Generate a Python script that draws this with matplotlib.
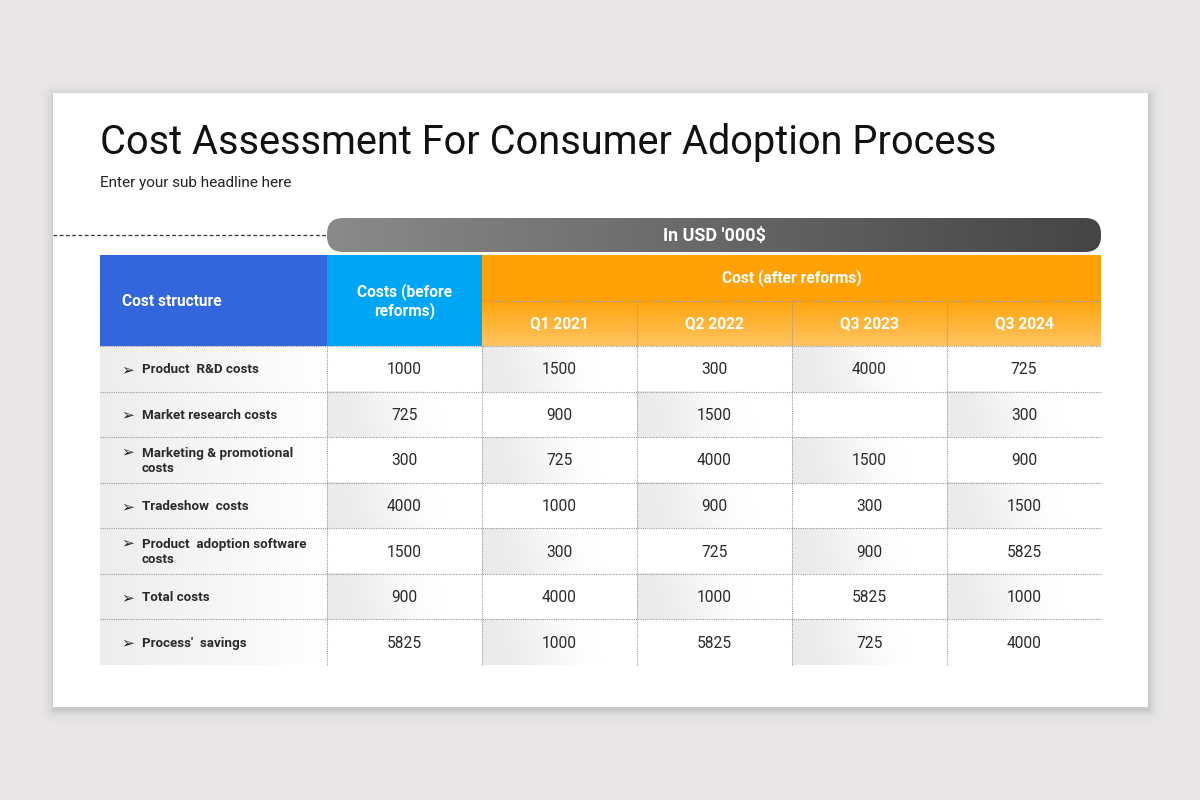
import numpy as np
import matplotlib
matplotlib.use("Agg")
import matplotlib.pyplot as plt
from matplotlib.patches import Rectangle, FancyBboxPatch
from matplotlib.colors import to_rgb

# ---------------- data ----------------
title = "Cost Assessment For Consumer Adoption Process"
subtitle = "Enter your sub headline here"
unit_label = "In USD '000$"
col_header_structure = "Cost structure"
col_header_before = "Costs (before\nreforms)"
col_header_after = "Cost (after reforms)"
periods = ["Q1 2021", "Q2 2022", "Q3 2023", "Q3 2024"]
row_labels = [
    "Product  R&D costs",
    "Market research costs",
    "Marketing & promotional\ncosts",
    "Tradeshow  costs",
    "Product  adoption software\ncosts",
    "Total costs",
    "Process'  savings",
]
costs_before = [1000, 725, 300, 4000, 1500, 900, 5825]
q1_2021 = [1500, 900, 725, 1000, 300, 4000, 1000]
q2_2022 = [300, 1500, 4000, 900, 725, 1000, 5825]
q3_2023 = [4000, None, 1500, 300, 900, 5825, 725]
q3_2024 = [725, 300, 900, 1500, 5825, 1000, 4000]
after_values = [q1_2021, q2_2022, q3_2023, q3_2024]

FONT = ["Roboto", "DejaVu Sans"]

fig = plt.figure(figsize=(12, 8), dpi=100)
fig.patch.set_facecolor("#e9e7e7")
ax = fig.add_axes([0, 0, 1, 1])
ax.set_xlim(0, 1200)
ax.set_ylim(800, 0)
ax.axis("off")
ax.set_autoscale_on(False)

# ---------------- card with soft shadow ----------------
cx0, cy0, cx1, cy1 = 53, 93, 1148, 707
yy, xx = np.mgrid[0:800, 0:1200] + 0.5
sx0, sy0, sx1, sy1 = cx0 + 1, cy0 + 3, cx1 + 1, cy1 + 3
dx = np.maximum(np.maximum(sx0 - xx, 0), xx - sx1)
dy = np.maximum(np.maximum(sy0 - yy, 0), yy - sy1)
d = np.sqrt(dx ** 2 + dy ** 2)
alpha = 0.14 * np.exp(-d / 5.0)
shadow = np.zeros((800, 1200, 4))
shadow[..., 3] = alpha
ax.imshow(shadow, extent=[0, 1200, 800, 0], origin="upper", aspect="auto",
          interpolation="bilinear", zorder=1)
ax.add_patch(Rectangle((cx0, cy0), cx1 - cx0, cy1 - cy0, facecolor="white",
                       edgecolor="none", zorder=2))

# ---------------- titles ----------------
ax.text(100, 142.5, title, fontsize=28.6, family=FONT, color="#111111",
        ha="left", va="center", zorder=5)
ax.text(100, 183, subtitle, fontsize=11, family=FONT, color="#222222",
        ha="left", va="center", zorder=5)

# ---------------- geometry ----------------
col_edges = [100, 327, 482, 637, 792, 947, 1101]
hdr_top, hdr_mid, hdr_bot = 255, 301, 346
n_rows = len(row_labels)
row_h = (665 - hdr_bot) / n_rows
row_edges = [hdr_bot + i * row_h for i in range(n_rows + 1)]


def hgrad(x0, x1, y0, y1, c0, c1, start=0.0, end=1.0, z=3):
    n = 256
    t = np.clip((np.linspace(0, 1, n) - start) / (end - start), 0, 1)
    c0, c1 = np.array(to_rgb(c0)), np.array(to_rgb(c1))
    img = (c0[None, :] * (1 - t[:, None]) + c1[None, :] * t[:, None])[None, :, :]
    return ax.imshow(img, extent=[x0, x1, y1, y0], origin="upper", aspect="auto",
                     interpolation="bilinear", zorder=z)


def dgrad(x0, x1, y0, y1, c0, c1, z=3):
    # soft gradient: grey on the left fading to white towards the right
    n = 128
    fy, fx = np.mgrid[0:n, 0:n] / (n - 1)
    t = np.clip((fx + (1 - fy) * 0.08 - 0.08) / 0.72, 0, 1)
    t = t * t * (3 - 2 * t)
    c0, c1 = np.array(to_rgb(c0)), np.array(to_rgb(c1))
    img = c0[None, None, :] * (1 - t[..., None]) + c1[None, None, :] * t[..., None]
    return ax.imshow(img, extent=[x0, x1, y1, y0], origin="upper", aspect="auto",
                     interpolation="bilinear", zorder=z)


def vgrad(x0, x1, y0, y1, c0, c1, z=3):
    n = 256
    t = np.linspace(0, 1, n)
    c0, c1 = np.array(to_rgb(c0)), np.array(to_rgb(c1))
    img = (c0[None, :] * (1 - t[:, None]) + c1[None, :] * t[:, None])[:, None, :]
    return ax.imshow(img, extent=[x0, x1, y1, y0], origin="upper", aspect="auto",
                     interpolation="bilinear", zorder=z)


# ---------------- dashed line + pill ----------------
ax.plot([53, 327], [235, 235], color="#333333", lw=0.9, ls=(0, (3, 2)), zorder=4)
pill_full = FancyBboxPatch((327, 218), 774, 34, boxstyle="round,pad=0,rounding_size=16",
                           facecolor="none", edgecolor="none", zorder=4)
ax.add_patch(pill_full)
im = hgrad(327, 1101, 218, 252, "#8a8a8a", "#454545", z=4)
im.set_clip_path(pill_full)
ax.text(714, 236, unit_label, fontsize=13, family=FONT, weight="bold", color="white",
        ha="center", va="center", zorder=6)

# ---------------- header ----------------
ax.add_patch(Rectangle((col_edges[0], hdr_top), col_edges[1] - col_edges[0], hdr_bot - hdr_top,
                       facecolor="#3366dd", edgecolor="none", zorder=3))
ax.add_patch(Rectangle((col_edges[1], hdr_top), col_edges[2] - col_edges[1], hdr_bot - hdr_top,
                       facecolor="#00a6f6", edgecolor="none", zorder=3))
ax.add_patch(Rectangle((col_edges[2], hdr_top), col_edges[6] - col_edges[2], hdr_mid - hdr_top,
                       facecolor="#ffa208", edgecolor="none", zorder=3))
vgrad(col_edges[2], col_edges[6], hdr_mid, hdr_bot, "#ffa50c", "#ffc462", z=3)

ax.text(122, 302, col_header_structure, fontsize=11.2, family=FONT, weight="bold",
        color="white", ha="left", va="center", zorder=6)
ax.text((col_edges[1] + col_edges[2]) / 2, 301, col_header_before, fontsize=11.2, family=FONT,
        weight="bold", color="white", ha="center", va="center", linespacing=1.2, zorder=6)
ax.text((col_edges[2] + col_edges[6]) / 2, 278, col_header_after, fontsize=11.2, family=FONT,
        weight="bold", color="white", ha="center", va="center", zorder=6)
for j, p in enumerate(periods):
    ax.text((col_edges[j + 2] + col_edges[j + 3]) / 2, 324, p, fontsize=11.2, family=FONT,
            weight="bold", color="white", ha="center", va="center", zorder=6)

dot = dict(color="#9a9a9a", lw=0.8, ls=(0, (1, 1)), zorder=5)
ax.plot([col_edges[2], col_edges[6]], [hdr_mid, hdr_mid], **dot)
for x in col_edges[3:6]:
    ax.plot([x, x], [hdr_mid, hdr_bot], **dot)

# ---------------- body ----------------
all_cols = [costs_before] + after_values
for i in range(n_rows):
    y0, y1 = row_edges[i], row_edges[i + 1]
    yc = (y0 + y1) / 2
    hgrad(col_edges[0], col_edges[1], y0, y1, "#ededed", "#ffffff", 0.0, 1.0)
    for j, vals in enumerate(all_cols):
        x0, x1 = col_edges[j + 1], col_edges[j + 2]
        if (i + j) % 2 == 1:
            dgrad(x0, x1, y0, y1, "#ebebeb", "#ffffff")
        v = vals[i]
        if v is not None:
            ax.text((x0 + x1) / 2, yc + 1, str(v), fontsize=11.2, family=FONT,
                    color="#2a2a2a", ha="center", va="center", zorder=6)
    lab = row_labels[i]
    nlines = lab.count("\n") + 1
    arrow_y = yc - 8 if nlines > 1 else yc + 1
    ax.text(121, arrow_y, "➢", fontsize=11, family=["DejaVu Sans"], color="#222222",
            ha="left", va="center", zorder=6)
    ax.text(142, yc + 1, lab, fontsize=9.6, family=FONT, weight="bold", color="#2a2a2a",
            ha="left", va="center", linespacing=1.15, zorder=6)

for y in row_edges[:-1]:
    ax.plot([col_edges[0], col_edges[6]], [y, y], **dot)
for x in col_edges[1:6]:
    ax.plot([x, x], [hdr_bot, row_edges[-1]], **dot)

fig.savefig("out.png", dpi=100, facecolor=fig.get_facecolor())
